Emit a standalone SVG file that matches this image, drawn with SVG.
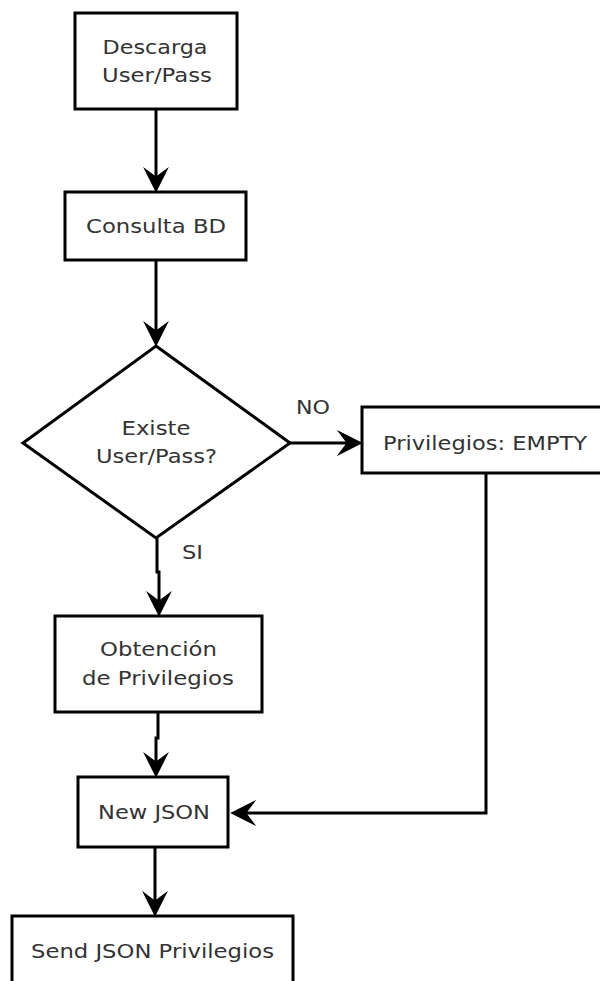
<svg xmlns="http://www.w3.org/2000/svg" width="600" height="981" viewBox="0 0 600 981">
  <style>
    .box { fill: #ffffff; stroke: #000000; stroke-width: 3; }
    .lbl { font-family: "DejaVu Sans", "Liberation Sans", sans-serif; font-size: 20px; fill: #333333; text-anchor: middle; }
    .edge { fill: none; stroke: #000000; stroke-width: 3; marker-end: url(#arrow); }
  </style>
  <defs>
    <!-- filled arrowhead with a notched back; tip sits 10px past the line end -->
    <marker id="arrow" markerUnits="userSpaceOnUse" markerWidth="28" markerHeight="28" viewBox="0 -13 26 26" refX="14" refY="0" orient="auto">
      <path d="M24,0 L0,-12 L9,0 L0,12 Z" fill="#000000"/>
    </marker>
  </defs>
  <rect width="600" height="981" fill="#ffffff"/>

  <g id="connectors">
    <path class="edge" d="M156,109 L156,182"/>
    <path class="edge" d="M156,260 L156,336"/>
    <path class="edge" d="M290,443 L352,443"/>
    <path class="edge" d="M157,538 L157,572 L159,572 L159,606"/>
    <path class="edge" d="M158,712 L158,738 L156,738 L156,767"/>
    <path class="edge" d="M486,473 L486,813 L241,813"/>
    <path class="edge" d="M155,847 L155,906"/>
  </g>

  <g id="descarga">
    <rect class="box" x="75" y="13" width="162" height="96"/>
    <text class="lbl" x="155" y="54" textLength="105" lengthAdjust="spacingAndGlyphs">Descarga</text>
    <text class="lbl" x="157" y="82" textLength="110" lengthAdjust="spacingAndGlyphs">User/Pass</text>
  </g>

  <g id="consulta">
    <rect class="box" x="65" y="192" width="181" height="68"/>
    <text class="lbl" x="156" y="233" textLength="140" lengthAdjust="spacingAndGlyphs">Consulta BD</text>
  </g>

  <g id="existe">
    <polygon class="box" points="156,346 290,443 156,538 23,443"/>
    <text class="lbl" x="156" y="435" textLength="69" lengthAdjust="spacingAndGlyphs">Existe</text>
    <text class="lbl" x="156.5" y="463" textLength="121" lengthAdjust="spacingAndGlyphs">User/Pass?</text>
  </g>

  <g id="label-no">
    <text class="lbl" x="313" y="414" textLength="34" lengthAdjust="spacingAndGlyphs">NO</text>
  </g>

  <g id="label-si">
    <text class="lbl" x="192.5" y="559" textLength="21" lengthAdjust="spacingAndGlyphs">SI</text>
  </g>

  <g id="privilegios-empty">
    <rect class="box" x="362" y="407" width="252" height="66"/>
    <text class="lbl" x="485" y="450" textLength="204" lengthAdjust="spacingAndGlyphs">Privilegios: EMPTY</text>
  </g>

  <g id="obtencion">
    <rect class="box" x="55" y="616" width="207" height="96"/>
    <text class="lbl" x="158.5" y="656" textLength="117" lengthAdjust="spacingAndGlyphs">Obtención</text>
    <text class="lbl" x="158" y="685" textLength="152" lengthAdjust="spacingAndGlyphs">de Privilegios</text>
  </g>

  <g id="new-json">
    <rect class="box" x="78" y="777" width="150" height="70"/>
    <text class="lbl" x="154" y="819" textLength="112" lengthAdjust="spacingAndGlyphs">New JSON</text>
  </g>

  <g id="send-json">
    <rect class="box" x="12" y="916" width="281" height="90"/>
    <text class="lbl" x="152.5" y="958" textLength="243" lengthAdjust="spacingAndGlyphs">Send JSON Privilegios</text>
  </g>
</svg>
